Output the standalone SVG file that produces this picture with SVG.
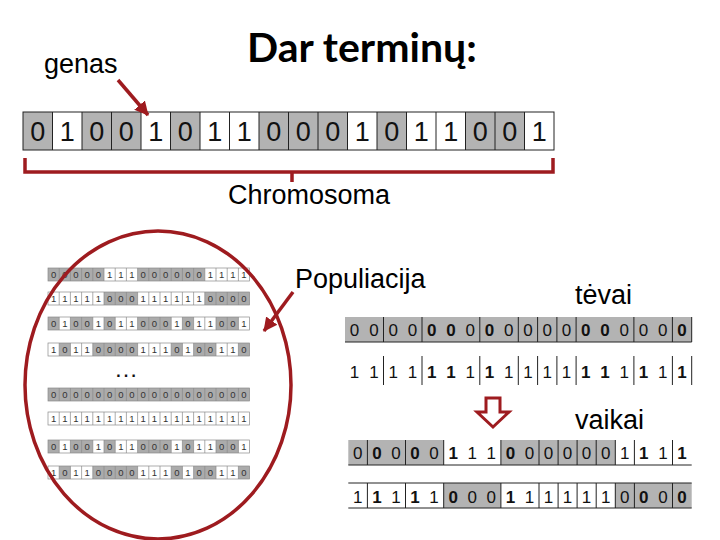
<svg xmlns="http://www.w3.org/2000/svg" xmlns:xlink="http://www.w3.org/1999/xlink" width="720" height="540" viewBox="0 0 720 540">
<style>
.lbl{font-family:"Liberation Sans",Arial,sans-serif;font-size:27px;fill:#000}
.title{font-family:Lato,"Liberation Sans",sans-serif;font-weight:bold;font-size:41px;fill:#000}
.g{fill:#b3b3b3}
.sg{fill:#ababab}
.red{stroke:#9e1b1f;fill:none;stroke-width:3.5}
.dig{font-family:"Liberation Sans",Arial,sans-serif;text-anchor:middle;fill:#111}
.big{font-size:27px}
.mid{font-size:17px}
.sm{font-size:9.5px;fill:#333}
.b{font-weight:bold}
.ln{stroke:#222;stroke-width:1;fill:none}
.sl{stroke:#8a8a8a;stroke-width:0.7;fill:none}
</style>
<defs>
<marker id="ah" markerUnits="userSpaceOnUse" markerWidth="16" markerHeight="16" refX="13" refY="7" orient="auto" viewBox="0 0 16 14">
<path d="M0,0 L14,7 L0,14 Z" fill="#9e1b1f"/>
</marker>
<g id="ssep">
<rect x="48" y="0" width="201.6" height="13" class="sl"/>
<path class="sl" d="M59.2,0v13M70.4,0v13M81.6,0v13M92.8,0v13M104,0v13M115.2,0v13M126.4,0v13M137.6,0v13M148.8,0v13M160,0v13M171.2,0v13M182.4,0v13M193.6,0v13M204.8,0v13M216,0v13M227.2,0v13M238.4,0v13"/>
</g>
<g id="r3">
<rect class="sg" x="48" y="0" width="11.2" height="13"/>
<rect class="sg" x="70.4" y="0" width="22.4" height="13"/>
<rect class="sg" x="104" y="0" width="11.2" height="13"/>
<rect class="sg" x="137.6" y="0" width="33.6" height="13"/>
<rect class="sg" x="182.4" y="0" width="11.2" height="13"/>
<rect class="sg" x="216" y="0" width="22.4" height="13"/>
<use xlink:href="#ssep"/>
<text class="dig sm" y="10.3" x="53.6 64.8 76 87.2 98.4 109.6 120.8 132 143.2 154.4 165.6 176.8 188 199.2 210.4 221.6 232.8 244">010010110001011001</text>
</g>
<g id="r4">
<rect class="sg" x="59.2" y="0" width="11.2" height="13"/>
<rect class="sg" x="92.8" y="0" width="44.8" height="13"/>
<rect class="sg" x="171.2" y="0" width="11.2" height="13"/>
<rect class="sg" x="193.6" y="0" width="22.4" height="13"/>
<rect class="sg" x="238.4" y="0" width="11.2" height="13"/>
<use xlink:href="#ssep"/>
<text class="dig sm" y="10.3" x="53.6 64.8 76 87.2 98.4 109.6 120.8 132 143.2 154.4 165.6 176.8 188 199.2 210.4 221.6 232.8 244">101100001110100110</text>
</g>
</defs>
<rect width="720" height="540" fill="#fff"/>

<g id="title"><text class="title" x="247" y="62">Dar terminų:</text></g>
<g id="genas"><text class="lbl" x="44" y="73">genas</text></g>

<g id="chromosome">
<rect class="g" x="23" y="112" width="29.5" height="38"/>
<rect class="g" x="82" y="112" width="59" height="38"/>
<rect class="g" x="170.5" y="112" width="29.5" height="38"/>
<rect class="g" x="259" y="112" width="88.5" height="38"/>
<rect class="g" x="377" y="112" width="29.5" height="38"/>
<rect class="g" x="465.5" y="112" width="59" height="38"/>
<rect class="ln" x="23" y="112" width="531" height="38"/>
<path class="ln" d="M52.5,112v38M82,112v38M111.5,112v38M141,112v38M170.5,112v38M200,112v38M229.5,112v38M259,112v38M288.5,112v38M318,112v38M347.5,112v38M377,112v38M406.5,112v38M436,112v38M465.5,112v38M495,112v38M524.5,112v38"/>
<text class="dig big" y="141" x="37.75 67.25 96.75 126.25 155.75 185.25 214.75 244.25 273.75 303.25 332.75 362.25 391.75 421.25 450.75 480.25 509.75 539.25">010010110001011001</text>
</g>
<g id="chromosoma"><text class="lbl" x="228" y="204">Chromosoma</text></g>

<g id="population">
<g transform="translate(0,268)">
<rect class="sg" x="48" y="0" width="56" height="13"/>
<rect class="sg" x="137.6" y="0" width="67.2" height="13"/>
<use xlink:href="#ssep"/>
<text class="dig sm" y="10.3" x="53.6 64.8 76 87.2 98.4 109.6 120.8 132 143.2 154.4 165.6 176.8 188 199.2 210.4 221.6 232.8 244">000001110000001111</text>
</g>
<g transform="translate(0,292)">
<rect class="sg" x="104" y="0" width="33.6" height="13"/>
<rect class="sg" x="204.8" y="0" width="44.8" height="13"/>
<use xlink:href="#ssep"/>
<text class="dig sm" y="10.3" x="53.6 64.8 76 87.2 98.4 109.6 120.8 132 143.2 154.4 165.6 176.8 188 199.2 210.4 221.6 232.8 244">111110001111110000</text>
</g>
<use xlink:href="#r3" transform="translate(0,317)"/>
<use xlink:href="#r4" transform="translate(0,343)"/>
<text x="114" y="377" font-family="Liberation Sans, sans-serif" font-size="24" fill="#111">…</text>
<g transform="translate(0,388)">
<rect class="sg" x="48" y="0" width="201.6" height="13"/>
<use xlink:href="#ssep"/>
<text class="dig sm" y="10.3" x="53.6 64.8 76 87.2 98.4 109.6 120.8 132 143.2 154.4 165.6 176.8 188 199.2 210.4 221.6 232.8 244">000000000000000000</text>
</g>
<g transform="translate(0,412)">
<use xlink:href="#ssep"/>
<text class="dig sm" y="10.3" x="53.6 64.8 76 87.2 98.4 109.6 120.8 132 143.2 154.4 165.6 176.8 188 199.2 210.4 221.6 232.8 244">111111111111111111</text>
</g>
<use xlink:href="#r3" transform="translate(0,440)"/>
<use xlink:href="#r4" transform="translate(0,466)"/>
<ellipse class="red" cx="158" cy="385" rx="133" ry="154" stroke-width="3"/>
</g>
<g id="populiacija"><text class="lbl" x="295" y="288">Populiacija</text></g>

<g id="tevai"><text class="lbl" x="575" y="304">tėvai</text>
<rect class="g" x="345" y="317" width="346.7" height="25"/>
<path class="ln" d="M345,342H691.7M383.5,317v25M422,317v25M479.8,317v25M518.3,317v25M537.6,317v25M556.9,317v25M576.1,317v25M633.9,317v25M672.4,317v25M691.7,317v25"/>
<text class="dig mid" y="336" x="354.6 373.9 393.2 412.4 431.7 450.9 470.2 489.5 508.7 528 547.2 566.5 585.8 605 624.3 643.5 662.8 682.1">0000<tspan class="b">00</tspan>0<tspan class="b">0</tspan>0000<tspan class="b">00</tspan>000<tspan class="b">0</tspan></text>
<path class="ln" d="M383.5,356v29M422,356v29M479.8,356v29M518.3,356v29M537.6,356v29M556.9,356v29M576.1,356v29M633.9,356v29M672.4,356v29M691.7,356v29"/>
<text class="dig mid" y="378" x="354.6 373.9 393.2 412.4 431.7 450.9 470.2 489.5 508.7 528 547.2 566.5 585.8 605 624.3 643.5 662.8 682.1">1111<tspan class="b">11</tspan>1<tspan class="b">1</tspan>1111<tspan class="b">11</tspan>1<tspan class="b">1</tspan>1<tspan class="b">1</tspan></text>
</g>

<g id="down-arrow">
<path d="M486,398H500V412H509L493,427L477,412H486Z" fill="#fff" stroke="#9e1b1f" stroke-width="3" stroke-linejoin="miter"/>
</g>

<g id="vaikai"><text class="lbl" x="575" y="429">vaikai</text>
<rect class="g" x="348.3" y="440" width="95.4" height="25"/>
<rect class="g" x="500.9" y="440" width="114.4" height="25"/>
<path class="ln" d="M348.3,465H691.7M367.4,440v25M405.5,440v25M443.7,440v25M500.9,440v25M539,440v25M558.1,440v25M577.1,440v25M596.2,440v25M615.3,440v25M634.4,440v25M672.5,440v25"/>
<text class="dig mid" y="459" x="357.8 376.9 396 415 434.1 453.2 472.2 491.3 510.4 529.4 548.5 567.6 586.6 605.7 624.8 643.8 662.9 682">0<tspan class="b">0</tspan>0<tspan class="b">0</tspan>0<tspan class="b">1</tspan>11<tspan class="b">0</tspan>000001<tspan class="b">1</tspan>1<tspan class="b">1</tspan></text>
<rect class="g" x="443.7" y="483" width="57.2" height="25"/>
<rect class="g" x="615.3" y="483" width="76.4" height="25"/>
<path class="ln" d="M348.3,483H691.7M348.3,508H691.7M367.4,483v25M405.5,483v25M443.7,483v25M500.9,483v25M539,483v25M558.1,483v25M577.1,483v25M596.2,483v25M615.3,483v25M634.4,483v25M672.5,483v25"/>
<text class="dig mid" y="503" x="357.8 376.9 396 415 434.1 453.2 472.2 491.3 510.4 529.4 548.5 567.6 586.6 605.7 624.8 643.8 662.9 682">1<tspan class="b">1</tspan>1<tspan class="b">1</tspan>1<tspan class="b">0</tspan>00<tspan class="b">1</tspan>111110<tspan class="b">0</tspan>0<tspan class="b">0</tspan></text>
</g>

<g id="connectors">
<line class="red" x1="118" y1="80" x2="148" y2="115" stroke-width="3" marker-end="url(#ah)"/>
<line class="red" x1="293" y1="292" x2="264" y2="331" stroke-width="3" marker-end="url(#ah)"/>
<path class="red" d="M25,158V172H553V158M292,172V182"/>
</g>
</svg>
